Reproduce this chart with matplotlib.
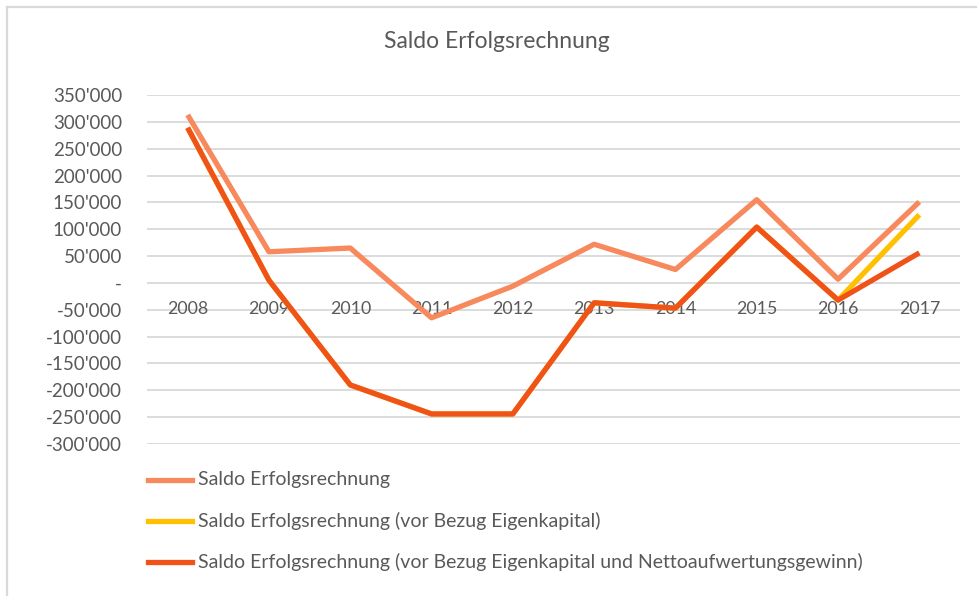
import matplotlib.pyplot as plt
from matplotlib.lines import Line2D
from matplotlib.ticker import FuncFormatter

plt.rcParams['font.family'] = ['Lato', 'DejaVu Sans']

years = ['2008', '2009', '2010', '2011', '2012', '2013', '2014', '2015', '2016', '2017']
saldo = [313000, 58000, 65000, -65000, -6000, 72000, 25000, 155000, 7000, 151000]
saldo_vor_ek = [289000, 5000, -190000, -244000, -244000, -37000, -47000, 104000, -32000, 127000]
saldo_vor_ek_nag = [289000, 5000, -190000, -244000, -244000, -37000, -47000, 104000, -32000, 56000]

labels = ['Saldo Erfolgsrechnung',
          'Saldo Erfolgsrechnung (vor Bezug Eigenkapital)',
          'Saldo Erfolgsrechnung (vor Bezug Eigenkapital und Nettoaufwertungsgewinn)']
colors = ['#F7895C', '#FFC000', '#F0531A']
txt = '#595959'

fig = plt.figure(figsize=(9.78, 5.96), dpi=100)
ax = fig.add_axes([147 / 978, 1 - 444 / 596, (960 - 147) / 978, (444 - 95) / 596])

x = list(range(len(years)))
for vals, c in zip([saldo, saldo_vor_ek, saldo_vor_ek_nag], colors):
    ax.plot(x, vals, color=c, lw=3.8, solid_capstyle='butt', zorder=3)

ax.set_xlim(-0.5, 9.5)
ax.set_ylim(-300000, 350000)
ax.set_yticks(range(-300000, 350001, 50000))
ax.grid(axis='y', color='#D9D9D9', lw=1.3, zorder=0)
ax.set_axisbelow(True)


def fmt(v, pos):
    if v == 0:
        return '-'
    return '{:,.0f}'.format(v).replace(',', "'")


ax.yaxis.set_major_formatter(FuncFormatter(fmt))
ax.tick_params(axis='y', length=0, pad=18, labelsize=13.5, labelcolor=txt)
ax.set_xticks([])
for s in ax.spines.values():
    s.set_visible(False)

# category labels sit next to the zero line
for i, y in enumerate(years):
    ax.annotate(y, (i, 0), xytext=(0, -26), textcoords='offset pixels',
                ha='center', va='center', fontsize=12.8, color=txt, zorder=1)

fig.text(497 / 978, 1 - 42 / 596, 'Saldo Erfolgsrechnung', ha='center', va='center',
         fontsize=16.5, color=txt)

# legend
for k, (lab, c) in enumerate(zip(labels, colors)):
    yy = 1 - (480 + 41 * k) / 596
    fig.add_artist(Line2D([148 / 978, 192 / 978], [yy, yy], color=c, lw=3.8,
                          transform=fig.transFigure))
    fig.text(198 / 978, yy, lab, ha='left', va='center', fontsize=14, color=txt)

# chart border (top and left)
fig.add_artist(Line2D([7 / 978, 977 / 978], [1 - 7 / 596, 1 - 7 / 596], color='#D9D9D9',
                      lw=1.6, transform=fig.transFigure))
fig.add_artist(Line2D([7 / 978, 7 / 978], [1 - 7 / 596, 0], color='#D9D9D9',
                      lw=1.6, transform=fig.transFigure))

fig.savefig('out.png', dpi=100)
